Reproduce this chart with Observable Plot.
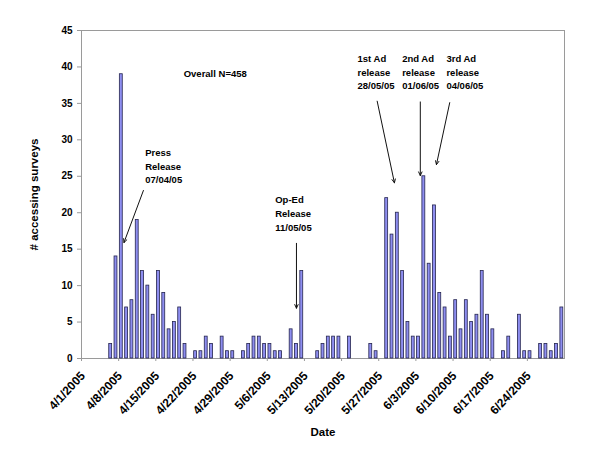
<!DOCTYPE html>
<html>
<head>
<meta charset="utf-8">
<script src="https://cdn.jsdelivr.net/npm/d3@7"></script>
<script src="https://cdn.jsdelivr.net/npm/@observablehq/plot@0.6"></script>
<style>
  html, body { margin: 0; padding: 0; background: #fff; }
  #chart svg { display: block; }
</style>
</head>
<body>
<div id="chart"></div>
<script>
// ---- data ----
const startDate = "2005-04-01";
// daily counts, 1 April – 30 June 2005
const counts = [
  0,0,0,0,0,2,14,39,7,8,19,12,10,6,12,9,4,5,7,2,0,1,1,3,2,0,3,1,1,0,          // April
  1,2,3,3,2,2,1,1,0,4,2,12,0,0,1,2,3,3,3,0,3,0,0,0,2,1,0,22,17,20,12,       // May
  5,3,3,25,13,21,9,7,3,8,4,8,5,6,12,6,4,0,1,3,0,6,1,1,0,2,2,1,2,7           // June
];
const xTicks = ["2005-04-01","2005-04-08","2005-04-15","2005-04-22","2005-04-29","2005-05-06",
  "2005-05-13","2005-05-20","2005-05-27","2005-06-03","2005-06-10","2005-06-17","2005-06-24"];
const yTicks = [0,5,10,15,20,25,30,35,40,45];
const notes = [
  {date: "2005-04-20T06:00Z", value: 39.2, text: "Overall N=458"},
  {date: "2005-04-13T00:00Z", value: 26.5, text: "Press\nRelease\n07/04/05"},
  {date: "2005-05-07T12:00Z", value: 20.0, text: "Op-Ed\nRelease\n11/05/05"},
  {date: "2005-05-23T00:00Z", value: 39.4, text: "1st Ad\nrelease\n28/05/05"},
  {date: "2005-05-31T10:00Z", value: 39.4, text: "2nd Ad\nrelease\n01/06/05"},
  {date: "2005-06-08T18:00Z", value: 39.4, text: "3rd Ad\nrelease\n04/06/05"}
];
const arrows = [
  {x1: "2005-04-12T16:00Z", y1: 23.05, x2: "2005-04-09T00:00Z", y2: 15.9},
  {x1: "2005-05-11T12:00Z", y1: 15.8,  x2: "2005-05-11T12:00Z", y2: 6.9},
  {x1: "2005-05-26T17:00Z", y1: 35.3,  x2: "2005-05-29T23:00Z", y2: 24.1},
  {x1: "2005-06-03T20:00Z", y1: 35.2,  x2: "2005-06-03T20:00Z", y2: 25.1},
  {x1: "2005-06-09T09:00Z", y1: 35.1,  x2: "2005-06-06T21:00Z", y2: 26.6}
];

// ---- build ----
const t0 = new Date(startDate + "T00:00Z");
const rows = counts.map((v, i) => ({date: d3.utcDay.offset(t0, i), value: v})).filter(d => d.value > 0);
const tickDates = xTicks.map(s => new Date(s + "T00:00Z"));
const fmt = d => `${d.getUTCMonth() + 1}/${d.getUTCDate()}/${d.getUTCFullYear()}`;
const P = d => new Date(d);
const font = "'Liberation Sans', Arial, sans-serif";

const chart = Plot.plot({
  width: 600,
  height: 464,
  marginLeft: 81,
  marginRight: 36,
  marginTop: 30,
  marginBottom: 106,
  style: {fontFamily: font, background: "#fff", color: "#000"},
  x: {type: "utc", domain: [t0, new Date("2005-07-01T00:00Z")], axis: null},
  y: {domain: [0, 45], axis: null},
  marks: [
    Plot.frame({stroke: "#9a9a9a"}),
    Plot.rectY(rows, {
      x1: "date", x2: d => d3.utcDay.offset(d.date, 1), y: "value",
      insetLeft: 1.2, insetRight: 1.2,
      fill: "#8e8ef0", stroke: "#25254f", strokeWidth: 0.8
    }),
    Plot.axisY({ticks: yTicks, tickSize: 4, tickPadding: 5, stroke: "#9a9a9a", fill: "#000",
      fontSize: 10, fontWeight: "bold", label: null}),
    Plot.axisX({ticks: tickDates, tickSize: 3, stroke: "#9a9a9a", tickFormat: () => "", label: null}),
    Plot.text(tickDates, {x: d => d, text: fmt, frameAnchor: "bottom", rotate: -47,
      textAnchor: "end", lineAnchor: "top", dy: 12, dx: -2, fontSize: 12, fontWeight: "bold", fill: "#000"}),
    Plot.text(["# accessing surveys"], {frameAnchor: "left", rotate: -90, dx: -47,
      textAnchor: "middle", fontSize: 11.5, fontWeight: "bold", fill: "#000"}),
    Plot.text(["Date"], {frameAnchor: "bottom", dy: 74, lineAnchor: "middle",
      fontSize: 11.5, fontWeight: "bold", fill: "#000"}),
    Plot.text(notes, {x: d => P(d.date), y: "value", text: "text", textAnchor: "start",
      lineAnchor: "middle", lineHeight: 1.43, fontSize: 9.5, fontWeight: "bold", fill: "#000"}),
    Plot.arrow(arrows, {x1: d => P(d.x1), y1: "y1", x2: d => P(d.x2), y2: "y2",
      stroke: "#111", strokeWidth: 1, headLength: 6, headAngle: 50})
  ]
});
document.getElementById("chart").appendChild(chart);
</script>
</body>
</html>
